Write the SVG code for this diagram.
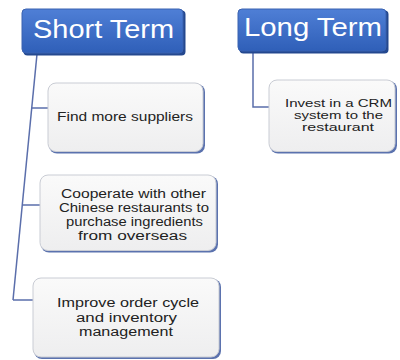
<svg xmlns="http://www.w3.org/2000/svg" width="400" height="360" viewBox="0 0 400 360">
  <defs>
    <linearGradient id="titleFill" x1="0" y1="0" x2="0" y2="1">
      <stop offset="0" stop-color="#4f7fd6"/>
      <stop offset="1" stop-color="#2f5fb8"/>
    </linearGradient>
    <linearGradient id="itemFill" x1="0" y1="0" x2="0" y2="1">
      <stop offset="0" stop-color="#fafafa"/>
      <stop offset="1" stop-color="#eeeeef"/>
    </linearGradient>
  </defs>
  <style>
    .title-shadow { fill: #24488f; }
    .title-box { fill: url(#titleFill); stroke: #3a62b0; stroke-width: 1; }
    .title-text { font-family: "Liberation Sans", Arial, sans-serif; font-size: 25px; fill: #ffffff; text-anchor: middle; }
    .item-shadow { fill: #5b72ae; }
    .item-box { fill: url(#itemFill); stroke: #c9ccd4; stroke-width: 1; }
    .item-text { font-family: "Liberation Sans", Arial, sans-serif; font-size: 12px; fill: #222222; text-anchor: middle; }
    .item-text-sm { font-family: "Liberation Sans", Arial, sans-serif; font-size: 11px; fill: #222222; text-anchor: middle; }
    .link { fill: none; stroke: #5a6eab; stroke-width: 1.5; }
  </style>

  <rect width="400" height="360" fill="#ffffff"/>

  <!-- connectors -->
  <g id="connectors">
    <line class="link" x1="37" y1="54" x2="13" y2="300"/>
    <line class="link" x1="31.8" y1="108" x2="48" y2="108"/>
    <line class="link" x1="22.5" y1="205" x2="40" y2="205"/>
    <line class="link" x1="13" y1="300" x2="34" y2="300"/>
    <polyline class="link" points="253,52 253,107 269,107"/>
  </g>

  <!-- headers -->
  <g id="short-term">
    <rect class="title-shadow" x="23.5" y="10.5" width="162" height="45" rx="4"/>
    <rect class="title-box" x="22" y="9" width="161" height="44" rx="4"/>
    <text class="title-text" x="103.5" y="38" textLength="141" lengthAdjust="spacingAndGlyphs">Short Term</text>
  </g>

  <g id="long-term">
    <rect class="title-shadow" x="239.5" y="10.5" width="149" height="43" rx="4"/>
    <rect class="title-box" x="238" y="9" width="148" height="42" rx="4"/>
    <text class="title-text" x="313" y="36" textLength="138" lengthAdjust="spacingAndGlyphs">Long Term</text>
  </g>

  <!-- short-term items -->
  <g id="find-suppliers">
    <rect class="item-shadow" x="49" y="84" width="156" height="69.5" rx="8"/>
    <rect class="item-box" x="48" y="83" width="155" height="68.5" rx="8"/>
    <text class="item-text" x="125" y="121" textLength="136" lengthAdjust="spacingAndGlyphs">Find more suppliers</text>
  </g>

  <g id="cooperate">
    <rect class="item-shadow" x="41" y="176" width="177" height="76.5" rx="8"/>
    <rect class="item-box" x="40" y="175" width="176" height="75.5" rx="8"/>
    <text class="item-text" x="133.5" y="198" textLength="145" lengthAdjust="spacingAndGlyphs">Cooperate with other</text>
    <text class="item-text" x="134" y="212" textLength="150" lengthAdjust="spacingAndGlyphs">Chinese restaurants to</text>
    <text class="item-text" x="134.5" y="226" textLength="137" lengthAdjust="spacingAndGlyphs">purchase ingredients</text>
    <text class="item-text" x="132.5" y="240" textLength="109" lengthAdjust="spacingAndGlyphs">from overseas</text>
  </g>

  <g id="order-cycle">
    <rect class="item-shadow" x="34" y="279" width="187" height="80" rx="8"/>
    <rect class="item-box" x="33" y="278" width="186" height="79" rx="8"/>
    <text class="item-text" x="128" y="307" textLength="142" lengthAdjust="spacingAndGlyphs">Improve order cycle</text>
    <text class="item-text" x="126.5" y="322" textLength="101" lengthAdjust="spacingAndGlyphs">and inventory</text>
    <text class="item-text" x="126" y="336" textLength="94" lengthAdjust="spacingAndGlyphs">management</text>
  </g>

  <!-- long-term item -->
  <g id="crm">
    <rect class="item-shadow" x="270" y="81" width="127" height="72.5" rx="8"/>
    <rect class="item-box" x="269" y="80" width="126" height="71.5" rx="8"/>
    <text class="item-text-sm" x="338.5" y="107" textLength="107" lengthAdjust="spacingAndGlyphs">Invest in a CRM</text>
    <text class="item-text-sm" x="338.5" y="119" textLength="89" lengthAdjust="spacingAndGlyphs">system to the</text>
    <text class="item-text-sm" x="338" y="131" textLength="72" lengthAdjust="spacingAndGlyphs">restaurant</text>
  </g>
</svg>
